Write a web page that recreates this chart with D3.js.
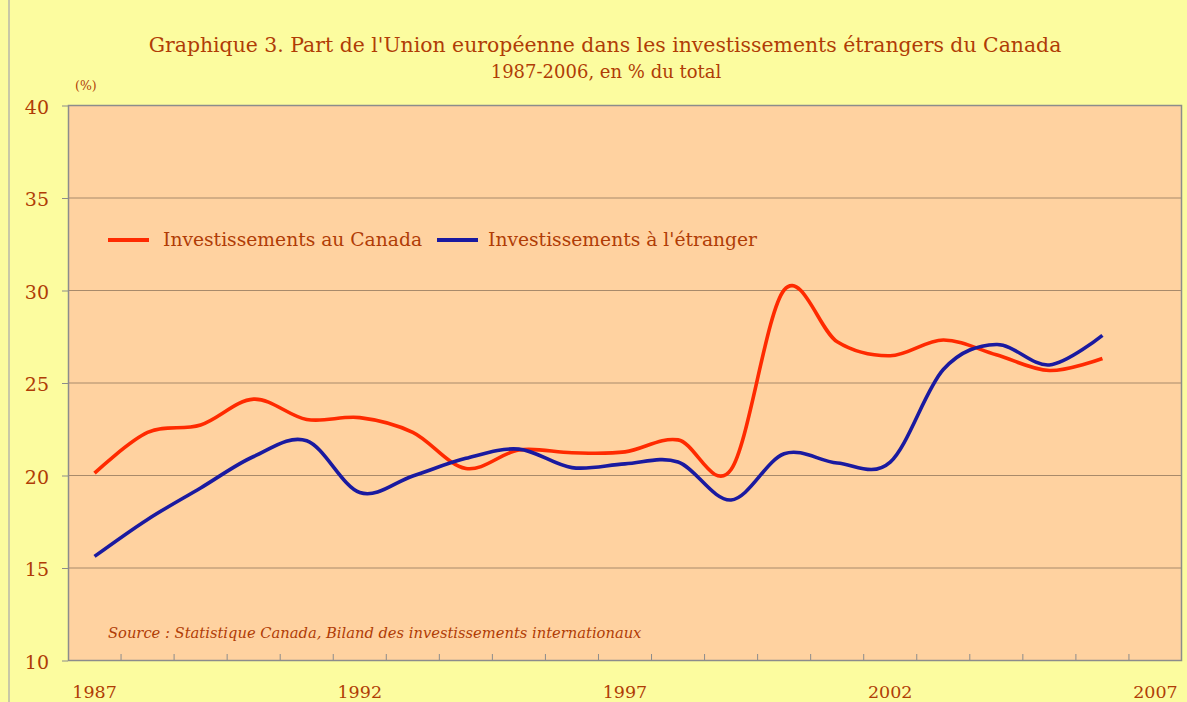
<!DOCTYPE html>
<html>
<head>
<meta charset="utf-8">
<script src="https://cdn.jsdelivr.net/npm/d3@7"></script>
<style>
body { margin:0; background:#FCFC9F; }
svg { display:block; }
</style>
</head>
<body>
<div id="a"></div>
<script>
// values, % of total
var years      = d3.range(1987, 2007),
	axisYears  = d3.range(1987, 2008),
	yearLabels = [1987, 1992, 1997, 2002, 2007],
	yTicks     = [10, 15, 20, 25, 30, 35, 40],
	auCanada   = [20.1, 22.3, 22.7, 24.1, 23.0, 23.1, 22.3, 20.35, 21.35, 21.2, 21.25, 21.9, 20.3, 30.0, 27.2, 26.45, 27.3, 26.5, 25.65, 26.3],
	aLetranger = [15.6, 17.6, 19.3, 21.0, 21.85, 19.05, 19.95, 20.9, 21.4, 20.4, 20.6, 20.7, 18.65, 21.15, 20.65, 20.7, 25.7, 27.05, 25.95, 27.55];

var series = [
	{name: "Investissements au Canada", values: auCanada, color: "#FF2A00", lx: 108, tx: 55},
	{name: "Investissements \u00e0 l'\u00e9tranger", values: aLetranger, color: "#1A1AA0", lx: 437, tx: 51}
];

var w = 1187, h = 702,
	plotLeft = 68, plotRight = 1182, plotTop = 105, plotBottom = 660,
	textColor = "#B03C06",
	font = "'DejaVu Serif', serif";

var svg = d3.select("#a").append("svg")
	.attr("width", w)
	.attr("height", h)
	.style("background-color", "#FCFC9F");

// outer frame line on the left
svg.append("line")
	.attr("x1", 9).attr("x2", 9).attr("y1", 0).attr("y2", h)
	.attr("stroke", "#B8B8A8").attr("stroke-width", 1.5);

var x = d3.scaleBand().domain(axisYears).range([plotLeft, plotRight]).padding(0);
var y = d3.scaleLinear().domain([10, 40]).range([plotBottom, plotTop]);

// plot area
svg.append("rect")
	.attr("x", plotLeft).attr("y", plotTop)
	.attr("width", plotRight - plotLeft).attr("height", plotBottom - plotTop)
	.attr("fill", "#FFD2A0");

// grid lines
svg.append("g").selectAll("line")
	.data(yTicks.slice(1, -1))
	.enter().append("line")
	.attr("x1", plotLeft).attr("x2", plotRight)
	.attr("y1", function(d) { return y(d) + 0.5; })
	.attr("y2", function(d) { return y(d) + 0.5; })
	.attr("stroke", "#A88A6A").attr("stroke-width", 1);

// plot border
svg.append("rect")
	.attr("x", plotLeft + 0.5).attr("y", plotTop + 0.5)
	.attr("width", plotRight - plotLeft - 1).attr("height", plotBottom - plotTop)
	.attr("fill", "none")
	.attr("stroke", "#8C8C8C").attr("stroke-width", 1.5);

// y axis
var yAxis = d3.axisLeft(y).tickValues(yTicks).tickSize(6).tickPadding(13);
var gy = svg.append("g").attr("transform", "translate(" + plotLeft + ",0.5)").call(yAxis);
gy.select(".domain").remove();
gy.selectAll(".tick line").attr("stroke", "#8C8C8C");
gy.selectAll(".tick text")
	.attr("fill", textColor)
	.style("font-family", font)
	.style("font-size", "19px")
	.attr("dy", "0.4em");

// x ticks at band edges, pointing up
svg.append("g").selectAll("line")
	.data(axisYears.slice(1))
	.enter().append("line")
	.attr("x1", function(d) { return x(d); })
	.attr("x2", function(d) { return x(d); })
	.attr("y1", plotBottom).attr("y2", plotBottom - 6)
	.attr("stroke", "#8C8C8C").attr("stroke-width", 1);

svg.append("g").selectAll("text")
	.data(yearLabels)
	.enter().append("text")
	.attr("x", function(d) { return x(d) + x.bandwidth() / 2; })
	.attr("y", 698)
	.attr("text-anchor", "middle")
	.attr("fill", textColor)
	.style("font-family", font)
	.style("font-size", "17.5px")
	.text(function(d) { return d; });

// lines
var line = d3.line()
	.curve(d3.curveCatmullRom.alpha(0))
	.x(function(d, i) { return x(years[i]) + x.bandwidth() / 2; })
	.y(function(d) { return y(d); });

svg.append("g").selectAll("path")
	.data(series)
	.enter().append("path")
	.attr("d", function(d) { return line(d.values); })
	.attr("fill", "none")
	.attr("stroke", function(d) { return d.color; })
	.attr("stroke-width", 3.6)
	.attr("stroke-linejoin", "round");

// legend
var lg = svg.append("g").selectAll("g")
	.data(series)
	.enter().append("g")
	.attr("transform", function(d) { return "translate(" + d.lx + ",240)"; });
lg.append("line")
	.attr("x1", 0).attr("x2", 41)
	.attr("stroke", function(d) { return d.color; })
	.attr("stroke-width", 4);
lg.append("text")
	.attr("x", function(d) { return d.tx; }).attr("y", 6)
	.attr("fill", textColor)
	.style("font-family", font)
	.style("font-size", "18.7px")
	.text(function(d) { return d.name; });

// titles
svg.append("text")
	.attr("x", 605).attr("y", 52)
	.attr("text-anchor", "middle")
	.attr("fill", textColor)
	.style("font-family", font)
	.style("font-size", "20.4px")
	.text("Graphique 3. Part de l'Union europ\u00e9enne dans les investissements \u00e9trangers du Canada");

svg.append("text")
	.attr("x", 606).attr("y", 78)
	.attr("text-anchor", "middle")
	.attr("fill", textColor)
	.style("font-family", font)
	.style("font-size", "18px")
	.text("1987-2006, en % du total");

svg.append("text")
	.attr("x", 75).attr("y", 90)
	.attr("fill", textColor)
	.style("font-family", font)
	.style("font-size", "12.5px")
	.text("(%)");

svg.append("text")
	.attr("x", 108).attr("y", 638)
	.attr("fill", textColor)
	.style("font-family", font)
	.style("font-style", "italic")
	.style("font-size", "14.7px")
	.text("Source : Statistique Canada, Biland des investissements internationaux");
</script>
</body>
</html>
